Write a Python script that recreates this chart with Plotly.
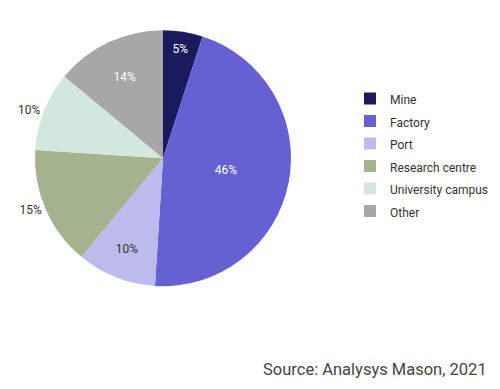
import plotly.graph_objects as go

labels = ["Mine", "Factory", "Port", "Research centre", "University campus", "Other"]
values = [5, 46, 10, 15, 10, 14]
colors = ["#1b1a5c", "#6661d3", "#bdbbee", "#a4b28d", "#d4e7dd", "#a7a7a7"]
text_colors = ["white", "white", "#333333", "#333333", "#333333", "white"]
text_positions = ["inside", "inside", "inside", "outside", "outside", "inside"]

legend_labels = ['<span style="font-size:12px">%s</span>' % s for s in labels]

fig = go.Figure(go.Pie(
    labels=legend_labels,
    values=values,
    sort=False,
    direction="clockwise",
    rotation=0,
    marker=dict(colors=colors, line=dict(width=0)),
    textinfo="percent",
    texttemplate="%{percent:.0%}",
    textposition=text_positions,
    insidetextorientation="horizontal",
    textfont=dict(size=12, color=text_colors, family="Roboto"),
    outsidetextfont=dict(size=12, color="#333333", family="Roboto"),
    domain=dict(x=[0.052, 0.568], y=[0.285, 0.943]),
    hoverinfo="label+percent",
))

fig.update_layout(
    width=500, height=389,
    margin=dict(l=0, r=0, t=0, b=0),
    paper_bgcolor="white",
    plot_bgcolor="white",
    font=dict(family="Roboto", color="#333333"),
    showlegend=True,
    legend=dict(
        x=0.684, y=0.809, xanchor="left", yanchor="top",
        font=dict(size=15, color="#333333", family="Roboto"),
        itemwidth=30, tracegroupgap=0,
    ),
    annotations=[dict(
        text="Source: Analysys Mason, 2021",
        x=0.962, y=0.04, xref="paper", yref="paper",
        xanchor="right", yanchor="bottom",
        showarrow=False,
        font=dict(size=16.5, color="#444444", family="Roboto"),
    )],
)

fig.write_html("out.html")
